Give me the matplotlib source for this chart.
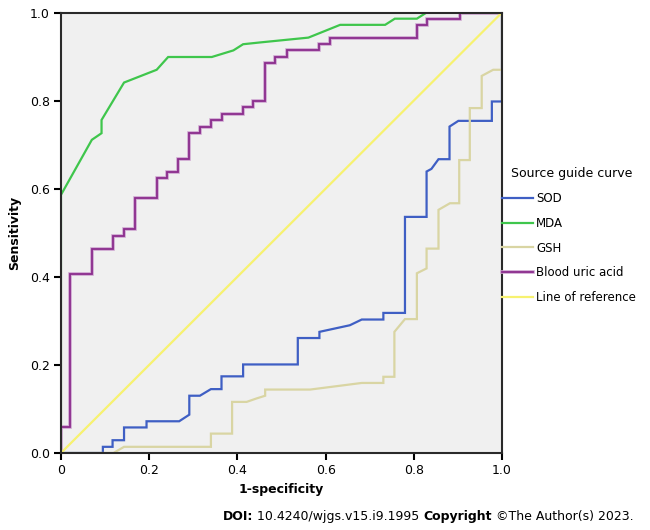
import matplotlib
matplotlib.use('Agg')
import matplotlib.pyplot as plt
import matplotlib.patheffects as pe

# ROC curve vertices (1-specificity, sensitivity)
sod_pts = [(0, 0), (0.095, 0), (0.095, 0.014), (0.117, 0.014), (0.117, 0.029), (0.143, 0.029),
           (0.143, 0.058), (0.194, 0.058), (0.194, 0.072), (0.268, 0.072), (0.291, 0.087),
           (0.291, 0.130), (0.315, 0.130), (0.340, 0.145), (0.364, 0.145), (0.364, 0.174),
           (0.413, 0.174), (0.413, 0.201), (0.537, 0.201), (0.537, 0.261), (0.586, 0.261),
           (0.586, 0.275), (0.655, 0.290), (0.682, 0.303), (0.731, 0.303), (0.731, 0.318),
           (0.780, 0.318), (0.780, 0.536), (0.829, 0.536), (0.829, 0.639), (0.840, 0.645),
           (0.856, 0.667), (0.881, 0.667), (0.881, 0.741), (0.901, 0.754), (0.977, 0.754),
           (0.977, 0.798), (1.0, 0.798), (1.0, 1.0)]

mda_pts = [(0, 0), (0, 0.586), (0.070, 0.711), (0.092, 0.726), (0.092, 0.756), (0.143, 0.841),
           (0.217, 0.870), (0.243, 0.899), (0.342, 0.899), (0.391, 0.914), (0.413, 0.928),
           (0.451, 0.932), (0.561, 0.943), (0.633, 0.972), (0.735, 0.972), (0.757, 0.986),
           (0.807, 0.986), (0.829, 1.0), (1.0, 1.0)]

gsh_pts = [(0, 0), (0.119, 0), (0.143, 0.014), (0.340, 0.014), (0.340, 0.044), (0.388, 0.044),
           (0.388, 0.116), (0.421, 0.116), (0.444, 0.124), (0.463, 0.130), (0.463, 0.144),
           (0.565, 0.144), (0.682, 0.159), (0.731, 0.159), (0.731, 0.173), (0.756, 0.173),
           (0.756, 0.275), (0.780, 0.304), (0.807, 0.304), (0.807, 0.408), (0.829, 0.419),
           (0.829, 0.464), (0.856, 0.464), (0.856, 0.552), (0.882, 0.567), (0.903, 0.567),
           (0.903, 0.665), (0.927, 0.665), (0.927, 0.783), (0.954, 0.783), (0.954, 0.856),
           (0.980, 0.870), (1.0, 0.870), (1.0, 1.0)]

uric_pts = [(0, 0), (0, 0.059), (0.020, 0.059), (0.020, 0.406), (0.070, 0.406), (0.070, 0.464),
            (0.119, 0.464), (0.119, 0.493), (0.143, 0.493), (0.143, 0.509), (0.168, 0.509),
            (0.168, 0.580), (0.217, 0.580), (0.217, 0.624), (0.240, 0.624), (0.240, 0.639),
            (0.266, 0.639), (0.266, 0.667), (0.291, 0.667), (0.291, 0.726), (0.315, 0.726),
            (0.315, 0.741), (0.340, 0.741), (0.340, 0.755), (0.364, 0.755), (0.364, 0.769),
            (0.413, 0.769), (0.413, 0.785), (0.436, 0.785), (0.436, 0.798), (0.463, 0.798),
            (0.463, 0.885), (0.485, 0.885), (0.485, 0.899), (0.512, 0.899), (0.512, 0.914),
            (0.584, 0.914), (0.584, 0.928), (0.610, 0.928), (0.610, 0.942), (0.807, 0.942),
            (0.807, 0.972), (0.829, 0.972), (0.829, 0.986), (0.905, 0.986), (0.905, 1.0),
            (1.0, 1.0)]

ref_pts = [(0, 0), (1, 1)]

curves = [
    ('SOD', sod_pts, '#3f5fc4'),
    ('MDA', mda_pts, '#3fc64c'),
    ('GSH', gsh_pts, '#d9d5a3'),
    ('Blood uric acid', uric_pts, '#8b2d8d'),
    ('Line of reference', ref_pts, '#f7f270'),
]

x_ticks = [0, 0.2, 0.4, 0.6, 0.8, 1.0]
x_tick_labels = ['0', '0.2', '0.4', '0.6', '0.8', '1.0']
y_ticks = [0, 0.2, 0.4, 0.6, 0.8, 1.0]
y_tick_labels = ['0.0', '0.2', '0.4', '0.6', '0.8', '1.0']

plt.rcParams['font.family'] = 'DejaVu Sans'

fig = plt.figure(figsize=(6.5, 5.3), dpi=100)
ax = fig.add_axes([0.0938, 0.1453, 0.6785, 0.8311])
ax.set_facecolor('#f0f0f0')

for name, pts, col in curves:
    xs = [p[0] for p in pts]
    ys = [p[1] for p in pts]
    line, = ax.plot(xs, ys, color=col, lw=1.6, label=name, solid_joinstyle='miter')
    if name == 'Blood uric acid':
        line.set_linewidth(1.3)
        line.set_path_effects([pe.Stroke(linewidth=2.6, foreground='#cda3cf'), pe.Normal()])

ax.set_xlim(0, 1)
ax.set_ylim(0, 1)
ax.set_xticks(x_ticks)
ax.set_xticklabels(x_tick_labels)
ax.set_yticks(y_ticks)
ax.set_yticklabels(y_tick_labels)
ax.tick_params(direction='out', length=5, width=1.5, labelsize=9, pad=3)
for s in ax.spines.values():
    s.set_linewidth(1.5)
    s.set_color('#2a2a2a')

ax.set_xlabel('1-specificity', fontsize=9, fontweight='bold', labelpad=4)
ax.set_ylabel('Sensitivity', fontsize=9, fontweight='bold', labelpad=6)

leg = ax.legend(loc='upper left', bbox_to_anchor=(1.0, 0.649), frameon=False,
                title='Source guide curve', fontsize=8.5, title_fontsize=9,
                handlelength=2.6, handletextpad=0.3, labelspacing=1.0,
                borderpad=0, borderaxespad=0, alignment='left')
leg.get_title().set_position((9, 0))

# source line at the bottom, bold parts drawn separately
t1 = fig.text(0.343, 0.018, 'DOI:', fontsize=9, fontweight='bold')
t2 = ax.annotate(' 10.4240/wjgs.v15.i9.1995 ', xy=(1, 0), xycoords=t1, fontsize=9,
                 va='bottom', annotation_clip=False)
t3 = ax.annotate('Copyright', xy=(1, 0), xycoords=t2, fontsize=9, fontweight='bold',
                 va='bottom', annotation_clip=False)
ax.annotate(' ©The Author(s) 2023.', xy=(1, 0), xycoords=t3, fontsize=9,
            va='bottom', annotation_clip=False)

fig.savefig('out.png', dpi=100, facecolor='white')
